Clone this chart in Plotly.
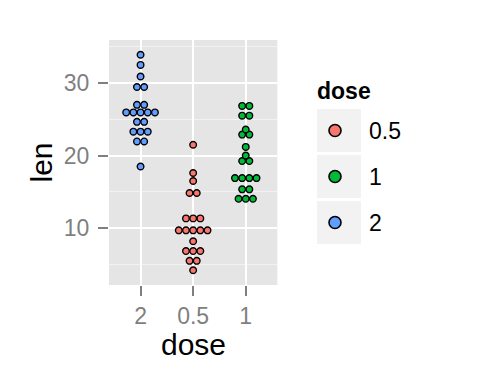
import plotly.graph_objects as go
from collections import Counter

# ---------------- data (ToothGrowth, dot-density bin centres) ----------------
dose_axis_order = ["2", "0.5", "1"]          # x-axis category order
legend_order = ["0.5", "1", "2"]             # legend order
len_dose_0_5 = [4.2, 5.5, 5.5, 6.85, 6.85, 6.85, 8.2,
                9.7, 9.7, 9.7, 9.7, 9.7, 11.35, 11.35, 11.35,
                14.85, 14.85, 16.5, 17.6, 21.5]
len_dose_1 = [14.05, 14.05, 14.05, 15.35, 15.35, 16.9, 16.9, 16.9, 16.9,
              19.25, 19.25, 20.0, 21.2, 22.9, 22.9, 23.6, 25.5, 25.5, 26.85, 26.85]
len_dose_2 = [18.5, 21.95, 21.95, 23.3, 23.3, 23.3, 24.65, 24.65,
              25.95, 25.95, 25.95, 25.95, 25.95, 27.0, 27.0, 29.45, 29.45, 30.9, 32.5, 33.9]
y_tick_vals = [10, 20, 30]
y_minor_vals = [5, 15, 25, 35]
binwidth = 0.99

values_by_dose = {"0.5": len_dose_0_5, "1": len_dose_1, "2": len_dose_2}
colors = {"0.5": "#F8766D", "1": "#00BA38", "2": "#619CFF"}

# ---------------- layout geometry (pixels) ----------------
W, H = 480, 384
PL, PT, PR, PB = 109, 40, 277.3, 285
x_range = [0.4, 3.6]
y_range = [2.17, 35.93]
px_per_y = (PB - PT) / (y_range[1] - y_range[0])
px_per_x = (PR - PL) / (x_range[1] - x_range[0])
dot_px = binwidth * px_per_y
dot_dx = dot_px / px_per_x

GREY_TXT = "#7F7F7F"
FONT = "Liberation Sans, Arial, Helvetica, sans-serif"

fig = go.Figure()

# dot plot (centre-stacked)
for pos, dose in enumerate(dose_axis_order, start=1):
    counts = Counter(values_by_dose[dose])
    xs, ys = [], []
    for yv, n in counts.items():
        for i in range(n):
            xs.append(pos + (i - (n - 1) / 2) * dot_dx)
            ys.append(yv)
    fig.add_trace(go.Scatter(
        x=xs, y=ys, mode="markers", showlegend=False, hoverinfo="skip",
        marker=dict(size=dot_px - 0.6, color=colors[dose],
                    line=dict(color="black", width=1.4)),
        xaxis="x", yaxis="y"))

# manual legend on an overlay axis measured in pixels
LEG_X0, LEG_X1 = 317, 361
LEG_TOP, LEG_H, LEG_GAP = 109, 43, 3
for k, dose in enumerate(legend_order):
    top = LEG_TOP + k * (LEG_H + LEG_GAP)
    cy = top + LEG_H / 2
    fig.add_shape(type="rect", xref="x2", yref="y2", x0=LEG_X0, x1=LEG_X1,
                  y0=top, y1=top + LEG_H, fillcolor="#F2F2F2", line=dict(width=0),
                  layer="below")
    fig.add_trace(go.Scatter(
        x=[335], y=[cy], mode="markers", showlegend=False, hoverinfo="skip",
        marker=dict(size=12, color=colors[dose], line=dict(color="black", width=1.6)),
        xaxis="x2", yaxis="y2"))
    fig.add_annotation(x=367, y=cy, xref="x2", yref="y2", text=dose, showarrow=False,
                       xanchor="left", yanchor="middle",
                       font=dict(family=FONT, size=23, color="black"))
fig.add_annotation(x=315, y=91, xref="x2", yref="y2", text="<b>dose</b>", showarrow=False,
                   xanchor="left", yanchor="middle",
                   font=dict(family=FONT, size=23, color="black"))

# axis titles
fig.add_annotation(x=(PL + PR) / 2, y=344, xref="x2", yref="y2", text="dose", showarrow=False,
                   xanchor="center", yanchor="middle",
                   font=dict(family=FONT, size=30, color="black"))
fig.add_annotation(x=41, y=(PT + PB) / 2, xref="x2", yref="y2", text="len", showarrow=False,
                   textangle=-90, xanchor="center", yanchor="middle",
                   font=dict(family=FONT, size=30, color="black"))

# panel background
fig.add_shape(type="rect", xref="x domain", yref="y domain", x0=0, x1=1, y0=0, y1=1,
              fillcolor="#E5E5E5", line=dict(width=0), layer="below")

fig.update_layout(
    width=W, height=H, margin=dict(l=0, r=0, t=0, b=0),
    paper_bgcolor="white", plot_bgcolor="rgba(0,0,0,0)",
    font=dict(family=FONT),
    showlegend=False,
    xaxis=dict(domain=[PL / W, PR / W], range=x_range, tickmode="array",
               tickvals=[1, 2, 3], ticktext=dose_axis_order,
               showgrid=True, gridcolor="white", gridwidth=2, zeroline=False,
               showline=False, ticks="outside", ticklen=10, tickwidth=2,
               tickcolor=GREY_TXT, tickfont=dict(size=23, color=GREY_TXT),
               ticklabelstandoff=0, fixedrange=True),
    yaxis=dict(domain=[1 - PB / H, 1 - PT / H], range=y_range, tickmode="array",
               tickvals=y_tick_vals, showgrid=True, gridcolor="white", gridwidth=2,
               zeroline=False, showline=False, ticks="outside", ticklen=10, tickwidth=2,
               tickcolor=GREY_TXT, tickfont=dict(size=23, color=GREY_TXT),
               ticklabelstandoff=4,
               minor=dict(tickmode="array", tickvals=y_minor_vals, showgrid=True,
                          gridcolor="#F2F2F2", gridwidth=1, ticks=""),
               fixedrange=True),
    xaxis2=dict(domain=[0, 1], range=[0, W], visible=False, fixedrange=True),
    yaxis2=dict(domain=[0, 1], range=[H, 0], visible=False, fixedrange=True),
)

fig.write_html("out.html")
